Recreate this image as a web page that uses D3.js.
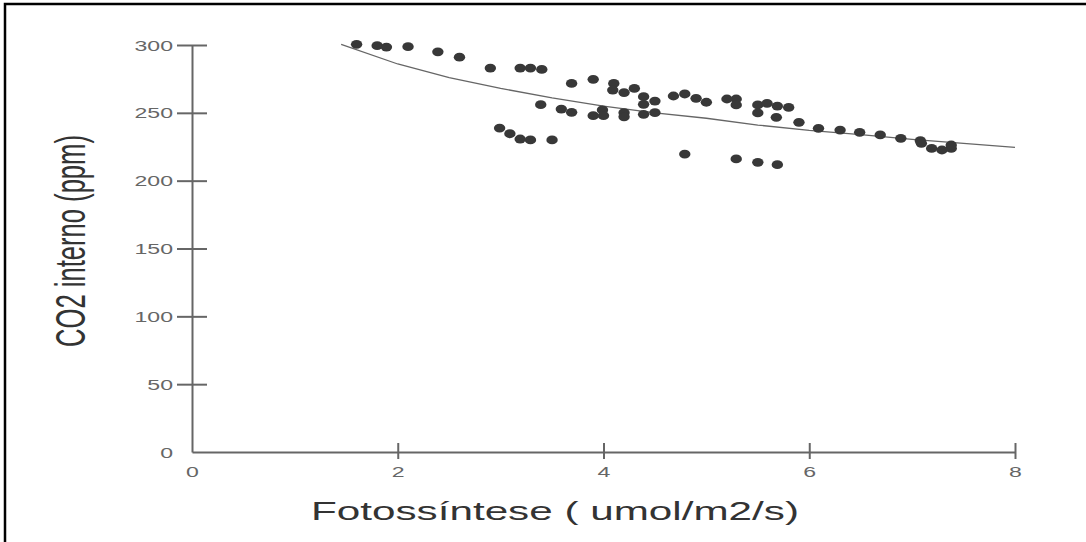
<!DOCTYPE html>
<html>
<head>
<meta charset="utf-8">
<script src="https://cdn.jsdelivr.net/npm/d3@7"></script>
<style>
  body { margin: 0; background: #fff; }
  svg { display: block; }
</style>
</head>
<body>
<div id="chart"></div>
<script>
"use strict"

// fotossintese (umol/m2/s) vs CO2 interno (ppm)
var photoValues = [
  1.60, 1.80, 1.89, 2.10, 2.39, 2.60, 2.90, 3.19, 3.29, 3.40,
  2.99, 3.09, 3.19, 3.29, 3.50,
  3.39, 3.59, 3.69, 3.69, 3.90, 4.10, 4.09, 4.20, 4.30, 4.39, 4.39, 4.50,
  4.68, 4.79, 4.90, 5.00,
  3.90, 3.99, 4.00, 4.20, 4.20, 4.39, 4.50,
  4.79,
  5.20, 5.29, 5.29, 5.50, 5.59, 5.69, 5.80, 5.50, 5.68, 5.90,
  6.09, 6.30, 6.49, 6.69, 6.89, 7.08, 7.09, 7.19, 7.29, 7.38, 7.38,
  5.29, 5.50, 5.69
];
var co2Values = [
  300.5, 299.5, 298.5, 298.8, 295.0, 291.0, 283.0, 283.0, 283.0, 282.0,
  238.8, 234.6, 230.7, 230.0, 230.0,
  256.0, 252.8, 250.4, 271.7, 274.7, 271.7, 266.8, 264.9, 268.0, 261.9, 256.3, 258.7,
  262.4, 263.9, 260.7, 257.8,
  247.9, 252.1, 247.9, 250.1, 247.1, 248.9, 250.1,
  219.6,
  260.2, 260.2, 255.8, 255.8, 257.0, 255.0, 254.0, 249.9, 246.7, 243.0,
  238.6, 237.3, 235.6, 233.7, 231.2, 229.5, 227.5, 223.8, 222.6, 223.8, 226.3,
  216.0, 213.5, 211.8
];

// fitted curve
var fitX = [1.45, 2.0, 2.5, 3.0, 3.5, 4.0, 4.5, 5.0, 5.5, 6.0, 6.5, 7.0, 7.5, 8.0];
var fitY = [300.5, 286, 276, 268, 261, 255, 250, 246, 241, 237, 234, 230.5, 227.5, 224.6];

var xTicks = [0, 2, 4, 6, 8];
var yTicks = [0, 50, 100, 150, 200, 250, 300];

var X_TITLE = "Fotossíntese ( umol/m2/s)";
var Y_TITLE = "CO2 interno (ppm)";

var W = 1086, H = 542;
var STRETCH = 1.65;   // the picture is wide-stretched
var FONT = "'Liberation Sans', Arial, sans-serif";

var svg = d3.select("#chart").append("svg")
    .attr("width", W)
    .attr("height", H);

svg.append("rect").attr("width", W).attr("height", H).attr("fill", "#fff");

// frame, top and left only
svg.append("path")
    .attr("d", "M5,542 V4 H1086")
    .attr("fill", "none")
    .attr("stroke", "#000")
    .attr("stroke-width", 2.5);

var x = d3.scaleLinear().domain([0, 8]).range([192, 1015]);
var y = d3.scaleLinear().domain([0, 300]).range([452, 45]);

// x axis
var gx = svg.append("g")
    .attr("transform", "translate(0," + y(0) + ")")
    .call(d3.axisBottom(x).tickValues(xTicks).tickSizeOuter(0).tickFormat(d3.format("d")));

gx.select(".domain").attr("stroke", "#666").attr("stroke-width", 2);
gx.selectAll(".tick line")
    .attr("stroke", "#666").attr("stroke-width", 2)
    .attr("y1", -9).attr("y2", 7)
    .style("display", function(d) { return d === 0 ? "none" : null; });
gx.selectAll(".tick text")
    .attr("y", 0).attr("dy", 0)
    .attr("transform", "translate(0,25) scale(" + STRETCH + ",1)")
    .attr("fill", "#666")
    .style("font", "14px " + FONT);

// y axis
var gy = svg.append("g")
    .attr("transform", "translate(" + x(0) + ",0)")
    .call(d3.axisLeft(y).tickValues(yTicks).tickSizeOuter(0).tickFormat(d3.format("d")));

gy.select(".domain").attr("stroke", "#666").attr("stroke-width", 2);
gy.selectAll(".tick line")
    .attr("stroke", "#666").attr("stroke-width", 2)
    .attr("x1", -15).attr("x2", 15)
    .style("display", function(d) { return d === 0 ? "none" : null; });
gy.selectAll(".tick text")
    .attr("x", 0).attr("dy", 0)
    .attr("transform", "translate(-19,5) scale(" + STRETCH + ",1)")
    .attr("fill", "#666")
    .style("font", "14px " + FONT);

// fit curve
var fit = fitX.map(function(d, i) { return [d, fitY[i]]; });
svg.append("path")
    .datum(fit)
    .attr("fill", "none")
    .attr("stroke", "#666")
    .attr("stroke-width", 1.3)
    .attr("d", d3.line().x(function(d) { return x(d[0]); }).y(function(d) { return y(d[1]); }));

// points
var points = photoValues.map(function(d, i) { return {"x": d, "y": co2Values[i]}; });
svg.append("g").selectAll("ellipse")
    .data(points)
    .enter().append("ellipse")
    .attr("cx", function(d) { return x(d.x); })
    .attr("cy", function(d) { return y(d.y); })
    .attr("rx", 5.7)
    .attr("ry", 4.4)
    .attr("fill", "#383838");

// titles
svg.append("text")
    .attr("transform", "translate(311,520) scale(" + STRETCH + ",1)")
    .attr("fill", "#333")
    .style("font", "25.6px " + FONT)
    .text(X_TITLE);

svg.append("text")
    .attr("transform", "translate(85,241) rotate(-90) scale(1," + STRETCH + ")")
    .attr("text-anchor", "middle")
    .attr("fill", "#333")
    .style("font", "25.6px " + FONT)
    .text(Y_TITLE);
</script>
</body>
</html>
